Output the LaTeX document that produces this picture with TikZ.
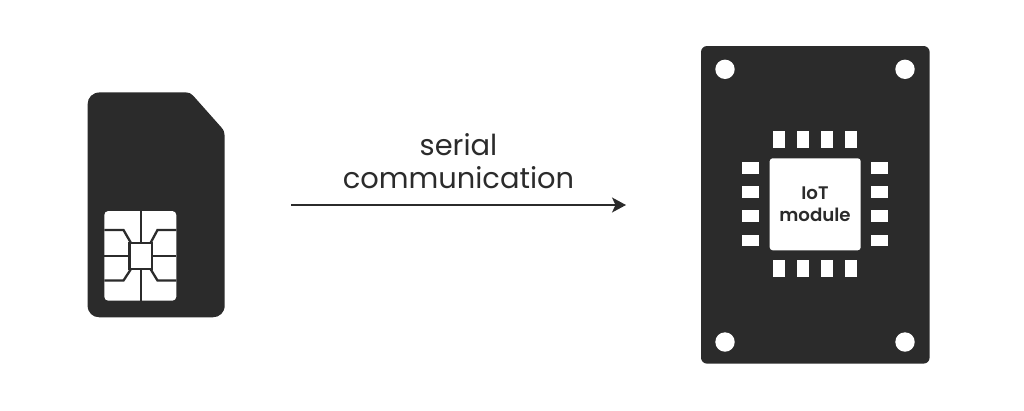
\documentclass[tikz,border=0pt]{standalone}
\usepackage{fontspec}
\usetikzlibrary{arrows.meta}
\setmainfont{Poppins}
\newfontfamily\medfont{Poppins SemiBold}
\definecolor{ink}{HTML}{2B2B2B}
\tikzset{
  px/.style={x=1pt,y=-1pt},
  body/.style={fill=ink,draw=none},
  hole/.style={fill=white,draw=none},
  trace/.style={draw=ink,line width=2.3pt,line join=miter},
  pad/.style={fill=white,draw=none},
  flow/.style={draw=ink,line width=1.4pt,-{Stealth[length=14pt,width=15pt,inset=3.5pt]}},
  lbl/.style={text=ink,align=center,inner sep=0pt,anchor=base},
}
\begin{document}
\begin{tikzpicture}[px]
\useasboundingbox (0,0) rectangle (1024,410);
% SIM card
\path[body] (100,92.4) -- (186,92.4) .. controls (189,92.4) and (191,93.4) .. (193,95.5)
  -- (221,127) .. controls (223.7,130) and (224.7,132.5) .. (224.7,136) -- (224.7,305.3)
  .. controls (224.7,312.5) and (219.5,317.3) .. (212.7,317.3) -- (99.5,317.3)
  .. controls (92.5,317.3) and (87.6,312.5) .. (87.6,305.3) -- (87.6,104.4)
  .. controls (87.6,97.5) and (92.5,92.4) .. (100,92.4) -- cycle;
\fill[white,rounded corners=4pt] (104.3,211) rectangle (176.3,300.7);
\coordinate (sq1) at (129.6,243); \coordinate (sq2) at (152.2,269);
\draw[trace] (sq1) rectangle (sq2);
\draw[trace] (140.7,211) -- (140.7,243);
\draw[trace] (140.7,269) -- (140.7,300.7);
\draw[trace] (104.3,255.7) -- (129.6,255.7);
\draw[trace] (152.2,255.7) -- (176.3,255.7);
\draw[trace] (104.3,230) -- (123.5,230) -- (131,243);
\draw[trace] (176.3,230) -- (157.5,230) -- (150.5,243);
\draw[trace] (104.3,280.5) -- (123.5,280.5) -- (131,269);
\draw[trace] (176.3,280.5) -- (157.5,280.5) -- (150.5,269);
% Board
\fill[body,rounded corners=6pt] (701,46) rectangle (929.6,363.6);
\foreach \x in {725,905} \foreach \y in {69.3,342} \fill[hole] (\x,\y) circle[radius=9.7pt];
\fill[pad,rounded corners=3pt] (769.7,158.3) rectangle (860.7,250.3);
\foreach \x in {773.3,797.3,821.3,845.3} {
  \fill[pad] (\x,131.3) rectangle ++(11.8,17);
  \fill[pad] (\x,260.3) rectangle ++(11.8,17);
}
\foreach \y in {162.4,186.4,210.4,234.6} {
  \fill[pad] (742.3,\y) rectangle ++(17,11.8);
  \fill[pad] (871.3,\y) rectangle ++(17,11.8);
}
\node[lbl,font=\medfont\fontsize{18.2}{18.2}\selectfont] (iot) at (815,199) {IoT};
\node[lbl,font=\medfont\fontsize{18.2}{18.2}\selectfont] (modulelbl) at (815,221) {module};
% Arrow
\node[lbl,font=\fontsize{28.9}{28.9}\selectfont] (serial) at (458.5,155.5) {serial};
\node[lbl,font=\fontsize{28.9}{28.9}\selectfont] (comm) at (458.5,188.5) {communication};
\coordinate (from) at (291,205);
\coordinate (to) at (626,205);
\draw[flow] (from) -- (to);
\end{tikzpicture}
\end{document}
